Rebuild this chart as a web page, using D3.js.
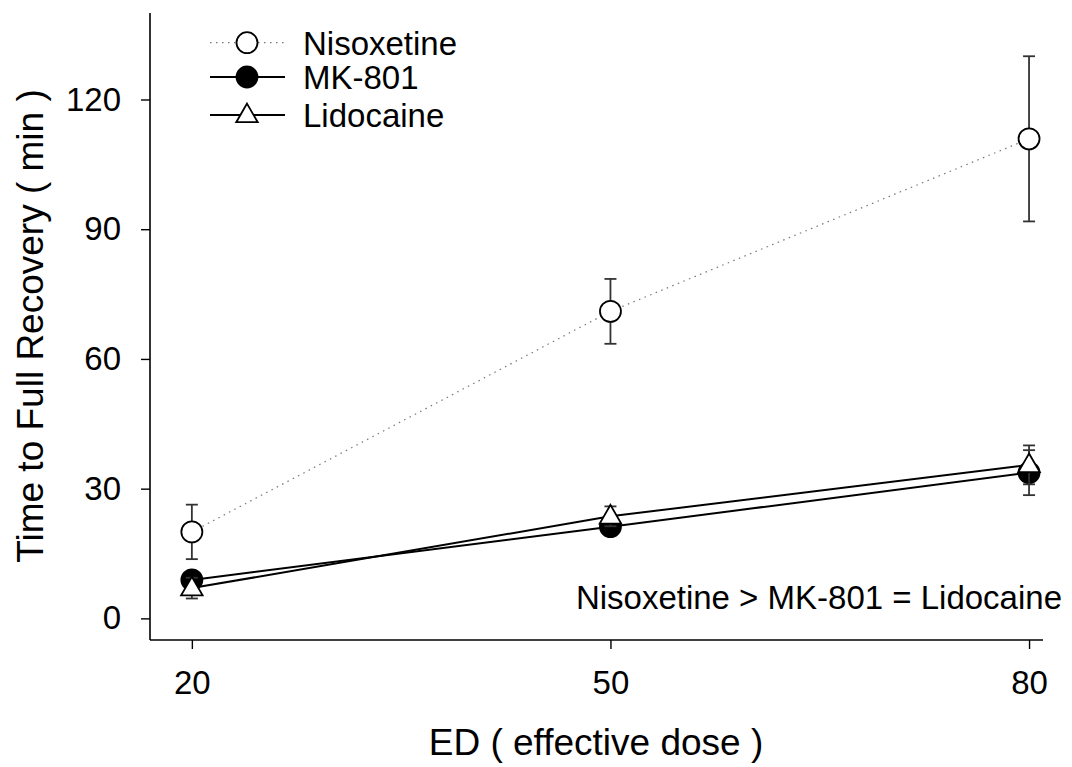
<!DOCTYPE html>
<html lang="en">
<head>
<meta charset="UTF-8">
<title>Time to Full Recovery</title>
<script src="https://cdn.jsdelivr.net/npm/d3@7"></script>
<style>
body { margin: 0; background: #fff; }
text { font-family: "Liberation Sans", Arial, sans-serif; fill: #000; }
</style>
</head>
<body>
<svg id="chart" width="1072" height="767"></svg>
<script>
// data
var doses = [20, 50, 80];
var xTicks = [20, 50, 80];
var yTicks = [0, 30, 60, 90, 120];

var nisoxetine = [20.0, 71.0, 110.9];
var nisoxetineErr = [6.3, 7.5, 19.1];
var mk801 = [8.9, 21.2, 33.7];
var mk801Err = [1.5, 2.0, 5.2];
var lidocaine = [7.0, 23.6, 35.5];
var lidocaineErr = [2.4, 2.3, 4.5];

var seriesNames = ["Nisoxetine", "MK-801", "Lidocaine"];

var svg = d3.select("#chart");

// plot box
var plotLeft = 150, plotRight = 1043, plotTop = 13, plotBottom = 640;

var x = d3.scaleLinear().domain([17, 81]).range([plotLeft, plotRight]);
var y = d3.scaleLinear().domain([-5, 140]).range([plotBottom, plotTop]);

// axes
var xAxis = svg.append("g")
  .attr("transform", "translate(0," + plotBottom + ")")
  .call(d3.axisBottom(x).tickValues(xTicks).tickSize(9).tickPadding(22).tickSizeOuter(0));
var yAxis = svg.append("g")
  .attr("transform", "translate(" + plotLeft + ",0)")
  .call(d3.axisLeft(y).tickValues(yTicks).tickSize(9).tickPadding(20).tickSizeOuter(0));

[xAxis, yAxis].forEach(function (a) {
  a.select(".domain").attr("stroke", "#000").attr("stroke-width", 1.6);
  a.selectAll(".tick line").attr("stroke", "#000").attr("stroke-width", 1.4);
  a.selectAll(".tick text").attr("font-size", 33).attr("fill", "#000")
    .attr("font-family", "Liberation Sans, Arial, sans-serif");
});
xAxis.select(".domain").attr("d", "M" + plotLeft + ",0H" + plotRight);
yAxis.select(".domain").attr("d", "M0," + plotTop + "V" + plotBottom);

// axis titles
svg.append("text")
  .attr("transform", "translate(43," + 326 + ") rotate(-90)")
  .attr("text-anchor", "middle")
  .attr("font-size", 37)
  .text("Time to Full Recovery ( min )");

svg.append("text")
  .attr("x", 596).attr("y", 755)
  .attr("text-anchor", "middle")
  .attr("font-size", 37)
  .text("ED ( effective dose )");

// annotation
svg.append("text")
  .attr("x", 1062).attr("y", 609)
  .attr("text-anchor", "end")
  .attr("font-size", 33)
  .text("Nisoxetine > MK-801 = Lidocaine");

var line = d3.line()
  .x(function (d) { return x(d[0]); })
  .y(function (d) { return y(d[1]); });

var triangle = d3.symbol().type(d3.symbolTriangle).size(200);

function drawSeries(vals, errs, opts) {
  var pts = doses.map(function (d, i) { return [d, vals[i], errs[i]]; });
  var g = svg.append("g");

  g.append("path")
    .datum(pts)
    .attr("fill", "none")
    .attr("stroke", opts.lineColor)
    .attr("stroke-width", opts.lineWidth)
    .attr("stroke-dasharray", opts.dash)
    .attr("d", line);

  // error bars
  pts.forEach(function (p) {
    var cx = x(p[0]);
    var y1 = y(p[1] + p[2]), y2 = y(p[1] - p[2]);
    g.append("line").attr("x1", cx).attr("x2", cx).attr("y1", y1).attr("y2", y2)
      .attr("stroke", "#333").attr("stroke-width", 1.8);
    [y1, y2].forEach(function (yy) {
      g.append("line").attr("x1", cx - 6).attr("x2", cx + 6).attr("y1", yy).attr("y2", yy)
        .attr("stroke", "#333").attr("stroke-width", 1.8);
    });
  });

  // markers
  pts.forEach(function (p) {
    drawMarker(g, opts.marker, x(p[0]), y(p[1]));
  });
}

function drawMarker(g, kind, cx, cy) {
  if (kind === "triangle") {
    g.append("path")
      .attr("d", triangle())
      .attr("transform", "translate(" + cx + "," + (cy + 1) + ")")
      .attr("fill", "#fff").attr("stroke", "#000").attr("stroke-width", 1.8);
  } else {
    g.append("circle")
      .attr("cx", cx).attr("cy", cy).attr("r", 10.5)
      .attr("fill", kind === "filled" ? "#000" : "#fff")
      .attr("stroke", "#000").attr("stroke-width", 1.8);
  }
}

var styles = [
  { marker: "open", lineColor: "#777", lineWidth: 1.2, dash: "1.5,4.5" },
  { marker: "filled", lineColor: "#000", lineWidth: 2, dash: null },
  { marker: "triangle", lineColor: "#000", lineWidth: 2, dash: null }
];

drawSeries(nisoxetine, nisoxetineErr, styles[0]);
drawSeries(mk801, mk801Err, styles[1]);
drawSeries(lidocaine, lidocaineErr, styles[2]);

// legend
var legendRows = [42.7, 77, 115];
seriesNames.forEach(function (name, i) {
  var st = styles[i];
  var ly = legendRows[i];
  var lg = svg.append("g");
  lg.append("line")
    .attr("x1", 210).attr("x2", 285).attr("y1", ly).attr("y2", ly)
    .attr("stroke", st.lineColor).attr("stroke-width", st.lineWidth)
    .attr("stroke-dasharray", st.dash);
  drawMarker(lg, st.marker, 247, ly);
  lg.append("text")
    .attr("x", 303).attr("y", ly + 12)
    .attr("font-size", 33)
    .text(name);
});
</script>
</body>
</html>
